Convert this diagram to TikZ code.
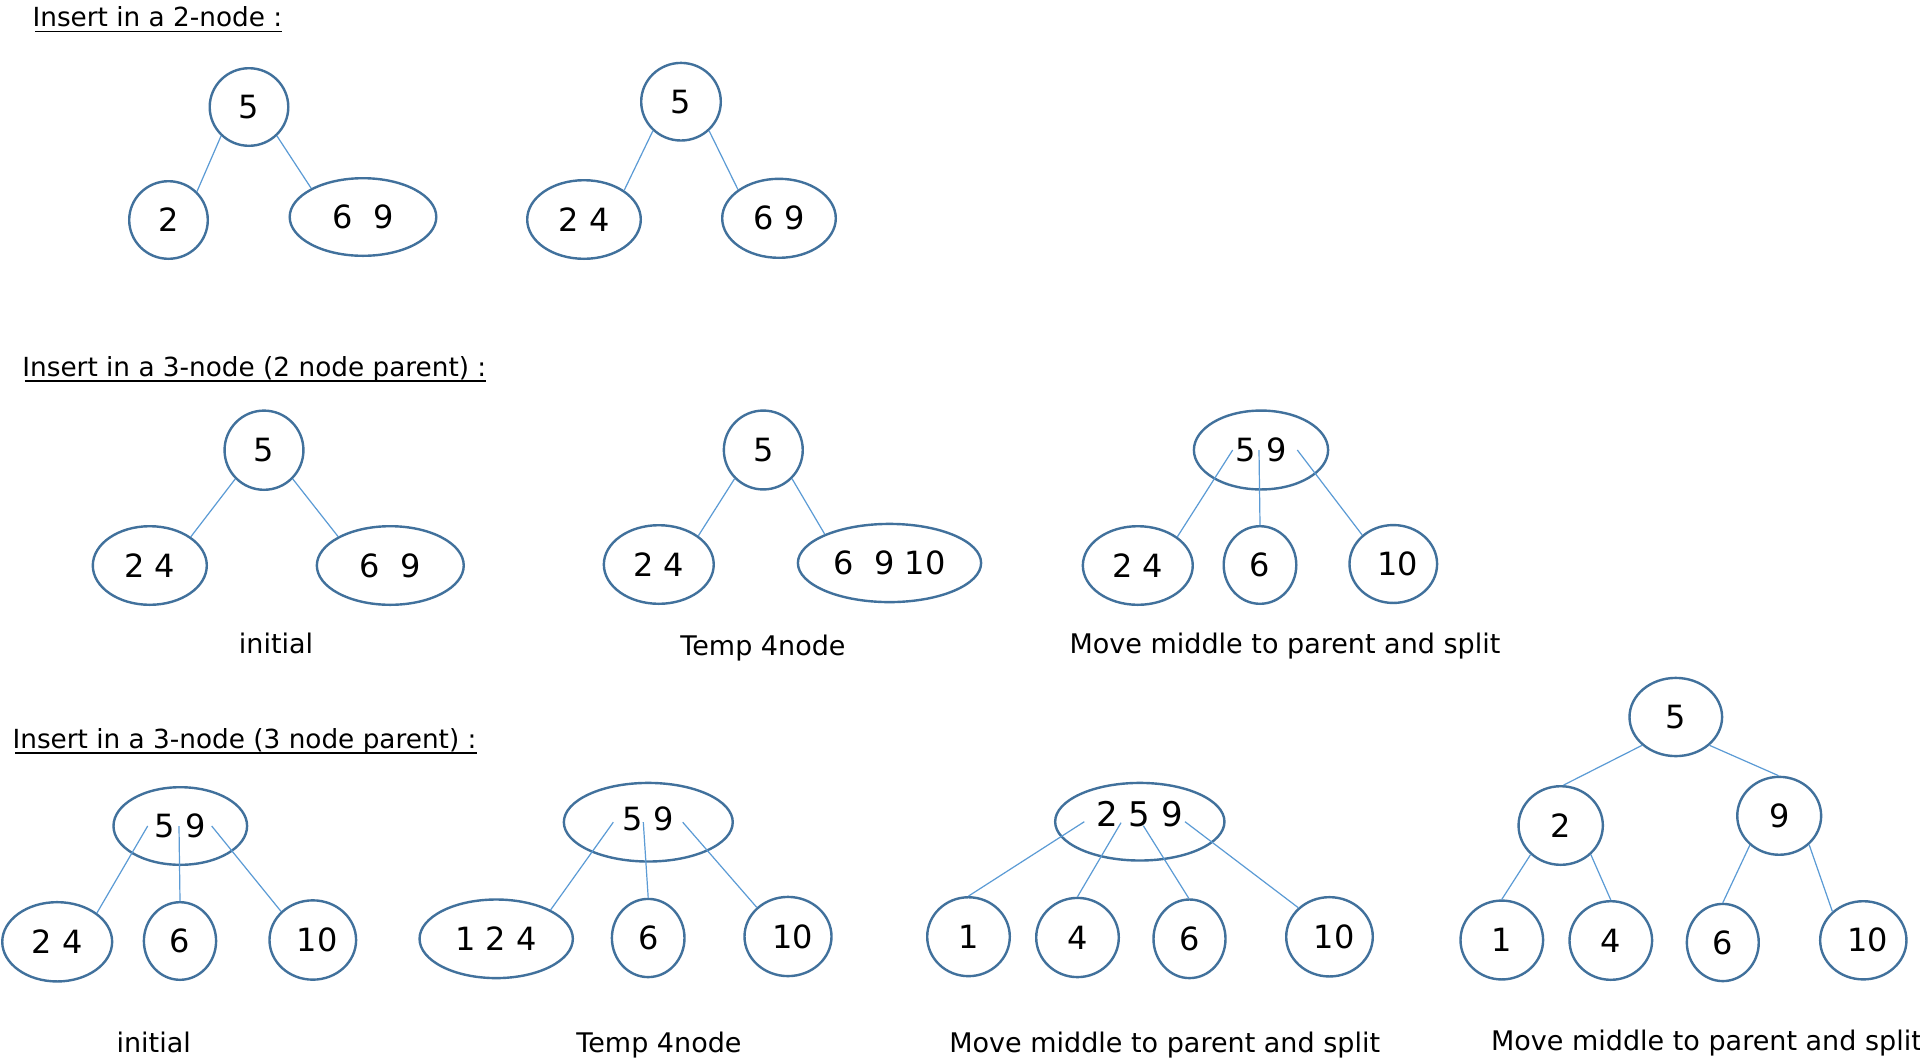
\documentclass[tikz,border=0pt]{standalone}
\usepackage{fontspec}
\setmainfont{DejaVu Sans}
\usetikzlibrary{shapes.geometric}
\definecolor{nodeblue}{HTML}{41719C}
\definecolor{edgeblue}{HTML}{5B9BD5}
\newcommand\digfont{\fontsize{32}{38}\selectfont}
\newcommand\bigdigfont{\fontsize{34}{40}\selectfont}
\newcommand\titlefont{\fontsize{26.3}{32}\selectfont}
\newcommand\capfont{\fontsize{27}{32}\selectfont}
\tikzset{
  tn/.style={ellipse, draw=nodeblue, line width=2.4pt, inner sep=0pt, font=\digfont, text=black},
  conn/.style={draw=edgeblue, line width=1.2pt},
  ttl/.style={anchor=base west, inner sep=0pt, font=\titlefont},
  uline/.style={draw=black, line width=1.3pt},
  captxt/.style={anchor=base, inner sep=0pt, font=\capfont},
}
\newcommand\tnode[6]{\node[tn, minimum width=#4pt, minimum height=#5pt] (#1) at (#2,#3) {#6};}
\begin{document}
\begin{tikzpicture}[x=1pt,y=-1pt]
\fill[white] (0,0) rectangle (1920,1061);
\useasboundingbox (0,0) rectangle (1920,1061);

% titles
\node[ttl] (t1) at (32.4,26.7) {Insert in a 2-node :};
\node[ttl] (t2) at (22.2,376) {Insert in a 3-node (2 node parent) :};
\node[ttl] (t3) at (12.4,748) {Insert in a 3-node (3 node parent) :};
\draw[uline] ([xshift=2.6pt,yshift=-5pt]t1.base west) -- ([yshift=-5pt]t1.base east);
\draw[uline] ([xshift=2.6pt,yshift=-5pt]t2.base west) -- ([yshift=-5pt]t2.base east);
\draw[uline] ([xshift=2.6pt,yshift=-5pt]t3.base west) -- ([yshift=-5pt]t3.base east);

% tree 1
\tnode{a5}{249}{107}{78.6}{77.6}{5}
\tnode{a2}{168.5}{220}{78.6}{77.6}{2}
\tnode{a69}{363}{217}{146.6}{77.6}{6\ \ 9}
\draw[conn] (a5.226) -- (a2.45);
\draw[conn] (a5.314) -- (a69.151);

% tree 2
\tnode{b5}{681}{101.7}{79.6}{77.6}{5}
\tnode{b24}{584}{219.5}{113.6}{78.6}{2 4}
\tnode{b69}{779}{218.3}{113.6}{79}{6 9}
\draw[conn] (b5.226) -- (b24.36);
\draw[conn] (b5.314) -- (b69.145);

% tree 3
\tnode{c5}{264}{450.2}{78.9}{79.2}{5}
\tnode{c24}{149.8}{565.5}{114}{78.6}{2 4}
\tnode{c69}{390.3}{565.5}{146.9}{78.6}{6\ \ 9}
\draw[conn] (c5.225) -- (c24.35);
\draw[conn] (c5.315) -- (c69.151);
\node[captxt] (l3) at (276,653) {initial};

% tree 4
\tnode{d5}{763.3}{450}{78.9}{78.9}{5}
\tnode{d24}{658.8}{564.5}{109.9}{78.6}{2 4}
\tnode{d6910}{889.5}{563}{183.2}{78.2}{6\ \ 9 10}
\draw[conn] (d5.225) -- (d24.36);
\draw[conn] (d5.315) -- (d6910.156);
\node[captxt] (l4) at (763,655) {Temp 4node};

% tree 5
\tnode{e59}{1261}{450}{134.2}{78.9}{5 9}
\tnode{e24}{1137.8}{565.5}{109.9}{78.6}{2 4}
\tnode{e6}{1260}{565}{72.6}{77.6}{6}
\tnode{e10}{1393.3}{564}{87.6}{77.9}{\kern9pt 10}
\coordinate (e59a) at ([xshift=-28.3pt]e59.center);
\coordinate (e59b) at ([xshift=-2pt]e59.center);
\coordinate (e59c) at ([xshift=36.3pt]e59.center);
\draw[conn] (e59a) -- (e24.36);
\draw[conn] (e59b) -- (e6.90);
\draw[conn] (e59c) -- (e10.137);
\node[captxt] (l5) at (1285,653.3) {Move middle to parent and split};

% tree 6
\tnode{f59}{180.3}{826}{133.6}{77.6}{5 9}
\tnode{f24}{57.2}{941.8}{109.9}{79.3}{2 4}
\tnode{f6}{180}{941}{72.2}{77.6}{6}
\tnode{f10}{312.8}{940}{86.6}{79.3}{\kern9pt 10}
\coordinate (f59a) at ([xshift=-32.6pt]f59.center);
\coordinate (f59b) at ([xshift=-1.3pt]f59.center);
\coordinate (f59c) at ([xshift=31.4pt]f59.center);
\draw[conn] (f59a) -- (f24.36);
\draw[conn] (f59b) -- (f6.90);
\draw[conn] (f59c) -- (f10.138);
\node[captxt] (l6) at (153.7,1052) {initial};

% tree 7
\tnode{g59}{648.3}{822.2}{168.9}{78.6}{\raisebox{8pt}{5 9}}
\tnode{g124}{496.2}{938.8}{153.3}{78.6}{1 2 4}
\tnode{g6}{648.2}{938}{72.6}{78.2}{6}
\tnode{g10}{788}{936.5}{87}{79.2}{\kern9pt 10}
\coordinate (g59a) at ([xshift=-35pt]g59.center);
\coordinate (g59b) at ([xshift=-5pt]g59.center);
\coordinate (g59c) at ([xshift=34.4pt]g59.center);
\draw[conn] (g59a) -- (g124.28);
\draw[conn] (g59b) -- (g6.90);
\draw[conn] (g59c) -- (g10.137);
\node[captxt] (l7) at (659,1052.7) {Temp 4node};

% tree 8
\tnode{h259}{1139.8}{821.7}{169.3}{77.6}{\bigdigfont\raisebox{15pt}{2 5 9}}
\tnode{h1}{968.5}{936.7}{82.6}{78.9}{1}
\tnode{h4}{1077.5}{937.5}{82.6}{79.2}{4}
\tnode{h6}{1189.5}{938.8}{72}{78.6}{6}
\tnode{h10}{1329.5}{936.8}{86.6}{79.3}{\kern9pt 10}
\coordinate (h259a) at ([xshift=-55.5pt]h259.center);
\coordinate (h259b) at ([xshift=-18.8pt,yshift=-1pt]h259.center);
\coordinate (h259c) at ([xshift=3.5pt,yshift=-4pt]h259.center);
\coordinate (h259d) at ([xshift=45.2pt]h259.center);
\draw[conn] (h259a) -- (h1.90);
\draw[conn] (h259b) -- (h4.90);
\draw[conn] (h259c) -- (h6.91);
\draw[conn] (h259d) -- (h10.137);
\node[captxt] (l8) at (1164.7,1052.7) {Move middle to parent and split};

% tree 9
\tnode{i5}{1675.8}{717}{92.6}{78.2}{5}
\tnode{i2}{1560.7}{825.5}{84.3}{78.6}{2}
\tnode{i9}{1779.2}{815.8}{83.9}{77.9}{9}
\tnode{i1}{1501.8}{940}{82.6}{78.9}{1}
\tnode{i4}{1610.8}{940.5}{82.6}{78.6}{4}
\tnode{i6}{1722.8}{942.5}{71.9}{77.2}{6}
\tnode{i10}{1863.3}{940.3}{86.3}{78.2}{\kern9pt 10}
\draw[conn] (i5.220) -- (i2.86);
\draw[conn] (i5.320) -- (i9.91);
\draw[conn] (i2.224) -- (i1.90);
\draw[conn] (i2.316) -- (i4.90);
\draw[conn] (i9.225) -- (i6.90);
\draw[conn] (i9.316) -- (i10.137);
\node[captxt, anchor=base east] (l9) at (1922,1050.7) {Move middle to parent and split};
\end{tikzpicture}
\end{document}
